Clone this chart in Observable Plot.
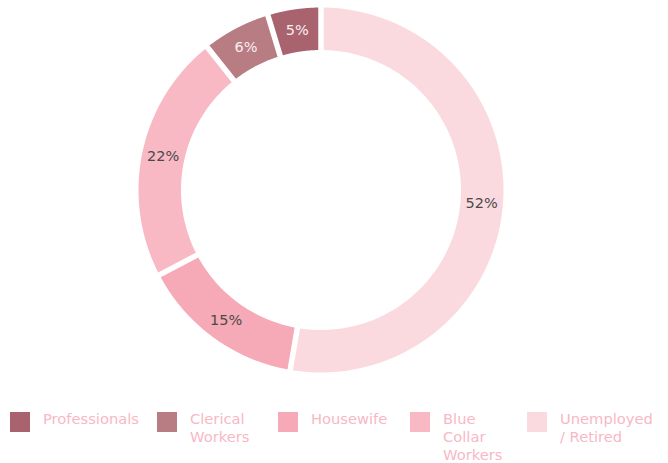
<!DOCTYPE html>
<html>
<head>
<meta charset="utf-8">
<script src="https://cdn.jsdelivr.net/npm/d3@7"></script>
<script src="https://cdn.jsdelivr.net/npm/@observablehq/plot@0.6"></script>
<style>
  html, body { margin: 0; padding: 0; background: #fff; }
  #wrap { position: relative; width: 668px; height: 463px; font-family: "DejaVu Sans", sans-serif; }
  .item { position: absolute; top: 412px; }
  .sw { position: absolute; left: 0; top: 0; width: 20px; height: 20px; }
  .lab { position: absolute; left: 33px; top: -2px; font-size: 14.7px; line-height: 17.8px; color: #f8b8c5; white-space: nowrap; }
</style>
</head>
<body>
<div id="wrap"></div>
<script>
const categories = ["Professionals", "Clerical Workers", "Housewife", "Blue Collar Workers", "Unemployed / Retired"];
const legendLines = [["Professionals"], ["Clerical", "Workers"], ["Housewife"], ["Blue", "Collar", "Workers"], ["Unemployed", "/ Retired"]];
const values = [4.7, 6.0, 14.6, 22.0, 52.7];
const valueLabels = ["5%", "6%", "15%", "22%", "52%"];
const colors = ["#a8636f", "#b87c83", "#f6a9b6", "#f8b9c5", "#fbdadf"];
const drawOrder = ["Unemployed / Retired", "Housewife", "Blue Collar Workers", "Clerical Workers", "Professionals"];

const W = 668, H = 395;
const cx = 320.5, cy = 189.5;
const rOut = 182.5, rIn = 140, gap = 5.5;

const total = d3.sum(values);
const idx = new Map(categories.map((c, i) => [c, i]));

// build ring slices (clockwise from 12 o'clock)
const pts = [];
const labels = [];
let acc = 0;
for (const c of drawOrder) {
  const i = idx.get(c);
  const v = values[i];
  const a0 = acc / total * 2 * Math.PI;
  const a1 = (acc + v) / total * 2 * Math.PI;
  acc += v;
  const n = 80;
  const dO = (gap / 2) / rOut, dI = (gap / 2) / rIn;
  for (let k = 0; k <= n; k++) {
    const t = a0 + dO + (a1 - a0 - 2 * dO) * k / n;
    pts.push({cat: c, x: rOut * Math.sin(t), y: rOut * Math.cos(t)});
  }
  for (let k = n; k >= 0; k--) {
    const t = a0 + dI + (a1 - a0 - 2 * dI) * k / n;
    pts.push({cat: c, x: rIn * Math.sin(t), y: rIn * Math.cos(t)});
  }
  const m = (a0 + a1) / 2, rm = (rOut + rIn) / 2;
  labels.push({cat: c, x: rm * Math.sin(m), y: rm * Math.cos(m), text: valueLabels[i],
               light: d3.lab(colors[i]).l < 60});
}

const chart = Plot.plot({
  width: W, height: H,
  marginTop: 0, marginBottom: 0, marginLeft: 0, marginRight: 0,
  x: {domain: [-cx, W - cx], axis: null},
  y: {domain: [-(H - cy), cy], axis: null},
  color: {domain: categories, range: colors},
  style: {background: "transparent"},
  marks: [
    Plot.line(pts, {x: "x", y: "y", z: "cat", fill: "cat", stroke: "none", curve: "linear"}),
    Plot.text(labels.filter(d => !d.light), {x: "x", y: "y", text: "text", fill: "#4a4a4a", fontSize: 14.5, fontFamily: "DejaVu Sans"}),
    Plot.text(labels.filter(d => d.light), {x: "x", y: "y", text: "text", fill: "#fbeef0", fontSize: 14.5, fontFamily: "DejaVu Sans"})
  ]
});

const wrap = document.getElementById("wrap");
chart.style.position = "absolute";
chart.style.left = "0px";
chart.style.top = "0px";
wrap.appendChild(chart);

const legendX = [10, 157, 278, 410, 527];
categories.forEach((c, i) => {
  const it = document.createElement("div");
  it.className = "item";
  it.style.left = legendX[i] + "px";
  const sw = document.createElement("div");
  sw.className = "sw";
  sw.style.background = colors[i];
  const lb = document.createElement("div");
  lb.className = "lab";
  lb.innerHTML = legendLines[i].join("<br>");
  it.appendChild(sw);
  it.appendChild(lb);
  wrap.appendChild(it);
});
</script>
</body>
</html>
